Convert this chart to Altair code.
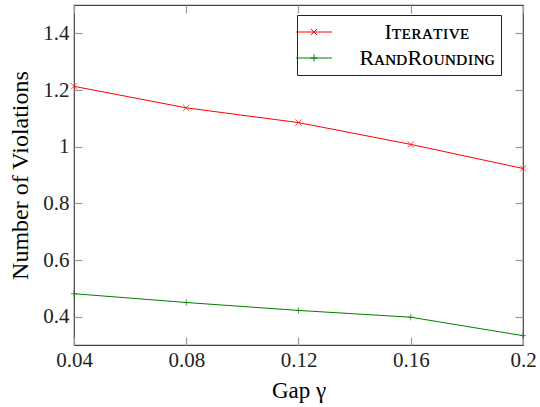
import altair as alt
import pandas as pd

# Series values per gap setting
gap = [0.04, 0.08, 0.12, 0.16, 0.2]
iterative = [1.213, 1.137, 1.085, 1.008, 0.923]
rand_rounding = [0.481, 0.450, 0.422, 0.398, 0.333]

series_names = ["Iᴛᴇʀᴀᴛɪᴠᴇ", "RᴀɴᴅRᴏᴜɴᴅɪɴɢ"]
series_colors = ["#ff0000", "#008000"]

x_ticks = [0.04, 0.08, 0.12, 0.16, 0.2]
y_ticks = [0.4, 0.6, 0.8, 1.0, 1.2, 1.4]

rows = []
for g, a, b in zip(gap, iterative, rand_rounding):
    rows.append({"gap": g, "value": a, "series": series_names[0]})
    rows.append({"gap": g, "value": b, "series": series_names[1]})
df = pd.DataFrame(rows)

cross_path = "M-1,-1L1,1M-1,1L1,-1"
plus_path = "M-1,0L1,0M0,-1L0,1"
legend_cross = "M-2,0L2,0M-0.33,-0.33L0.33,0.33M-0.33,0.33L0.33,-0.33"
legend_plus = "M-2,0L2,0M-0.4,0L0.4,0M0,-0.4L0,0.4"

serif = "Liberation Serif"
tick_col = "#9a9a9a"
tick_len = 8

x_scale = alt.Scale(domain=[0.04, 0.2], nice=False, zero=False)
y_scale = alt.Scale(domain=[0.3, 1.5], nice=False, zero=False)
color_scale = alt.Scale(domain=series_names, range=series_colors)

base = alt.Chart(df)

lines = base.mark_line(strokeWidth=1).encode(
    x=alt.X("gap:Q", scale=x_scale, axis=alt.Axis(
        orient="bottom", values=x_ticks, format=".2~f", title="Gap γ",
        offset=-tick_len, tickSize=tick_len, tickWidth=1.2, domain=False,
        grid=False, labelFlush=False,
        tickColor=tick_col, labelPadding=4, labelFont=serif, labelFontSize=21,
        labelColor="#222222", titleFont=serif, titleFontSize=23,
        titleFontWeight="normal", titleColor="black", titlePadding=9)),
    y=alt.Y("value:Q", scale=y_scale, axis=alt.Axis(
        orient="left", values=y_ticks, format=".1~f",
        title="Number of Violations",
        offset=-tick_len, tickSize=tick_len, tickWidth=1.2, domain=False,
        grid=False, labelFlush=False,
        tickColor=tick_col, labelPadding=5, labelFont=serif, labelFontSize=21,
        labelColor="#222222", titleFont=serif, titleFontSize=24,
        titleFontWeight="normal", titleColor="black", titlePadding=10)),
    color=alt.Color("series:N", scale=color_scale, sort=series_names,
                    legend=alt.Legend(
                        title=None, orient="none", legendX=223, legendY=10,
                        strokeColor="#222222", fillColor="white", padding=6,
                        cornerRadius=0, symbolSize=324, symbolStrokeWidth=1,
                        labelFont=serif, labelFontSize=22, labelColor="black",
                        labelAlign="center", labelOffset=102, rowPadding=4,
                        labelLimit=400,
                        symbolType=alt.ExprRef(
                            expr=f"datum.index === 0 ? '{legend_cross}' : '{legend_plus}'"))),
)

# Markers drawn per series, each with its own glyph
def marker_layer(name, path, axis_x=None, axis_y=None):
    return base.transform_filter(alt.datum.series == name).mark_point(
        filled=False, strokeWidth=1, size=40, shape=path
    ).encode(
        x=alt.X("gap:Q", scale=x_scale, axis=axis_x),
        y=alt.Y("value:Q", scale=y_scale, axis=axis_y),
        color=alt.Color("series:N", scale=color_scale, legend=None),
    )

top_axis = alt.Axis(orient="top", values=x_ticks, labels=False, title=None,
                    offset=-tick_len, tickSize=tick_len, tickWidth=1.2,
                    domain=False, grid=False, tickColor=tick_col)
right_axis = alt.Axis(orient="right", values=y_ticks, labels=False, title=None,
                      offset=-tick_len, tickSize=tick_len, tickWidth=1.2,
                      domain=False, grid=False, tickColor=tick_col)

marks_iter = marker_layer(series_names[0], cross_path, top_axis, right_axis)
marks_rand = marker_layer(series_names[1], plus_path, None, None)

chart = alt.layer(lines, marks_iter, marks_rand).resolve_axis(
    x="independent", y="independent"
).properties(
    width=449, height=340,
    autosize=alt.AutoSizeParams(type="none"),
    padding={"left": 74, "top": 5, "right": 17, "bottom": 62},
).configure_view(stroke="#444444", strokeWidth=1.2)

chart.save("out.html", embed_options={"renderer": "svg", "actions": False})
